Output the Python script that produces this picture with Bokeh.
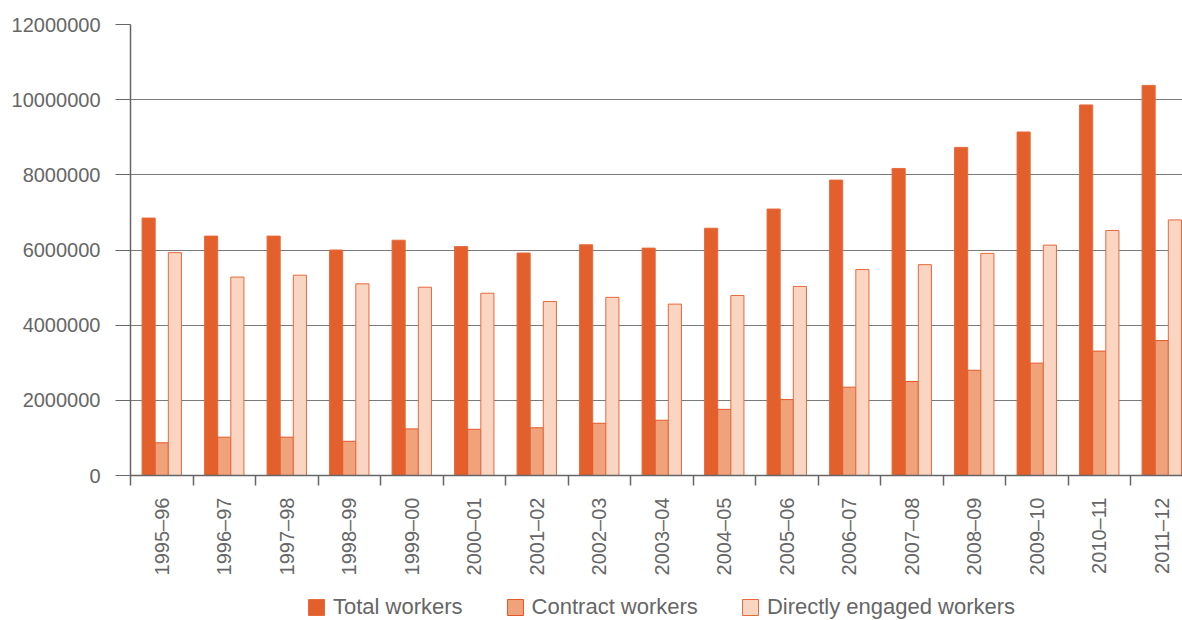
from bokeh.plotting import figure
from bokeh.layouts import column
from bokeh.models import (Range1d, FixedTicker, NumeralTickFormatter, Legend,
                          LegendItem, ColumnDataSource)
from bokeh.embed import file_html
from bokeh.resources import INLINE
import math

years = ["1995–96", "1996–97", "1997–98", "1998–99", "1999–00", "2000–01",
         "2001–02", "2002–03", "2003–04", "2004–05", "2005–06", "2006–07",
         "2007–08", "2008–09", "2009–10", "2010–11", "2011–12"]
total = [6850000, 6370000, 6370000, 6000000, 6260000, 6090000, 5920000,
         6140000, 6050000, 6580000, 7090000, 7860000, 8170000, 8730000,
         9140000, 9860000, 10380000]
contract = [870000, 1020000, 1020000, 910000, 1240000, 1230000, 1270000,
            1390000, 1470000, 1760000, 2020000, 2350000, 2500000, 2800000,
            2990000, 3310000, 3590000]
direct = [5930000, 5280000, 5330000, 5100000, 5010000, 4850000, 4630000,
          4740000, 4560000, 4790000, 5030000, 5480000, 5610000, 5910000,
          6130000, 6520000, 6800000]
y_ticks = [0, 2000000, 4000000, 6000000, 8000000, 10000000, 12000000]
series_names = ["Total workers", "Contract workers", "Directly engaged workers"]

fills = ["#E3602C", "#F0A27B", "#F9D5C2"]
lines = ["#E86A3C", "#E4572A", "#E8693C"]

n = len(years)
centers = [i + 0.5 for i in range(n)]
bounds = list(range(n + 1))
bar_w = 0.21

src = ColumnDataSource(dict(
    xt=[c - bar_w for c in centers],
    xc=centers,
    xd=[c + bar_w for c in centers],
    total=total, contract=contract, direct=direct))

FONT = "Liberation Sans"
TXT = "#666666"

p = figure(width=1182, height=594, output_backend="svg", toolbar_location=None,
           x_range=Range1d(0, 1052 / 62.5), y_range=Range1d(0, 12000000),
           min_border_left=130, min_border_right=0, min_border_top=24,
           min_border_bottom=119)
p.outline_line_color = None
p.background_fill_color = "white"

cols = list(zip(["xt", "xc", "xd"], ["total", "contract", "direct"], fills, lines))
for xcol, ycol, fc, lc in cols:
    p.vbar(x=xcol, top=ycol, width=bar_w, source=src,
           fill_color=fc, line_color=lc, line_width=1)

# y axis
yax = p.yaxis[0]
yax.ticker = FixedTicker(ticks=y_ticks)
yax.formatter = NumeralTickFormatter(format="0")
yax.major_tick_out = 15
yax.major_tick_in = 0
yax.minor_tick_line_color = None
yax.major_tick_line_color = "#666666"
yax.axis_line_color = "#666666"
yax.axis_line_width = 1.5
yax.major_label_text_font = FONT
yax.major_label_text_font_size = "20px"
yax.major_label_text_color = TXT
yax.major_label_standoff = 15

# x axis
xax = p.xaxis[0]
xax.ticker = FixedTicker(ticks=centers, minor_ticks=bounds)
xax.major_label_overrides = {c: y for c, y in zip(centers, years)}
xax.major_tick_line_color = None
xax.major_tick_out = 0
xax.major_tick_in = 0
xax.minor_tick_out = 10
xax.minor_tick_in = 0
xax.minor_tick_line_color = "#666666"
xax.minor_tick_line_width = 1.5
xax.axis_line_color = "#666666"
xax.axis_line_width = 1.5
xax.major_label_orientation = math.pi / 2
xax.major_label_text_font = FONT
xax.major_label_text_font_size = "20px"
xax.major_label_text_color = TXT
xax.major_label_standoff = 12

p.xgrid.grid_line_color = None
p.ygrid.ticker = FixedTicker(ticks=y_ticks)
p.ygrid.grid_line_color = "#7a7a7a"
p.ygrid.grid_line_width = 1

# legend strip as a separate small figure under the chart
# (its view range is set away from the bars so only the legend shows)
lf = figure(width=1182, height=26, output_backend="svg", toolbar_location=None,
            x_axis_location=None, y_axis_location=None,
            x_range=Range1d(-3, -2), y_range=Range1d(-3, -2),
            min_border=0)
lf.outline_line_color = None
lf.xgrid.grid_line_color = None
lf.ygrid.grid_line_color = None
items = []
for name, (xcol, ycol, fc, lc) in zip(series_names, cols):
    r = lf.vbar(x=xcol, top=ycol, width=bar_w, source=src,
                fill_color=fc, line_color=lc, line_width=1)
    items.append(LegendItem(label=name, renderers=[r]))
legend = Legend(items=items, orientation="horizontal", location=(176, 0),
                glyph_width=20, glyph_height=20, label_standoff=7, spacing=42,
                padding=0, margin=0, border_line_color=None,
                background_fill_alpha=0,
                label_text_font=FONT, label_text_font_size="22px",
                label_text_color=TXT)
lf.add_layout(legend)

layout = column(p, lf, spacing=0)
open("out.html", "w").write(file_html(layout, INLINE))
